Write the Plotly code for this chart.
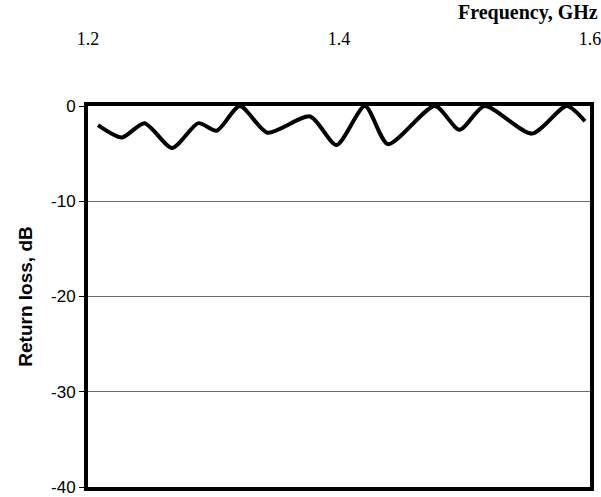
import plotly.graph_objects as go

# Data
freq_ghz = [1.208, 1.227, 1.245, 1.267, 1.288, 1.3025, 1.321, 1.343, 1.377, 1.398,
            1.4207, 1.439, 1.4765, 1.496, 1.516, 1.5536, 1.5815, 1.596]
return_loss_db = [-2.0, -3.3, -1.8, -4.4, -1.8, -2.6, 0.0, -2.8, -1.1, -4.1,
                  0.0, -4.0, 0.0, -2.5, 0.0, -2.9, 0.0, -1.6]

x_ticks = [1.2, 1.4, 1.6]
x_ticklabels = ["1.2", "1.4", "1.6"]
y_ticks = [0, -10, -20, -30, -40]
y_ticklabels = ["0", "-10", "-20", "-30", "-40"]

fig = go.Figure()
fig.add_trace(go.Scatter(
    x=freq_ghz, y=return_loss_db, mode="lines",
    line=dict(color="black", width=4, shape="spline", smoothing=0.7),
    showlegend=False, cliponaxis=True,
))

fig.update_layout(
    template="none",
    width=601, height=497, autosize=False,
    margin=dict(l=88, r=11, t=106, b=10, pad=0),
    paper_bgcolor="white", plot_bgcolor="white",
    xaxis=dict(
        side="top", range=[1.2, 1.6], automargin=False,
        tickmode="array", tickvals=x_ticks, ticktext=x_ticklabels,
        ticks="", showgrid=False, zeroline=False,
        showline=True, linecolor="black", linewidth=4, mirror=True,
        tickfont=dict(family="Liberation Serif", size=18, color="black"),
        ticklabelstandoff=50, ticklabeloverflow="allow",
    ),
    yaxis=dict(
        range=[-40, 0], automargin=False,
        tickmode="array", tickvals=y_ticks, ticktext=y_ticklabels,
        ticks="outside", ticklen=5, tickcolor="black", tickwidth=1,
        showgrid=True, gridcolor="#6a6a6a", gridwidth=1,
        zeroline=False, ticklabeloverflow="allow",
        showline=True, linecolor="black", linewidth=4, mirror=True,
        tickfont=dict(family="Liberation Sans", size=17, color="black"),
        title=dict(text="<b>Return loss, dB</b>",
                   font=dict(family="Liberation Sans", size=19, color="black"),
                   standoff=14),
    ),
    annotations=[dict(
        text="<b>Frequency, GHz</b>", xref="paper", yref="paper",
        x=1.02, y=1.0, xanchor="right", yanchor="middle",
        yshift=94, showarrow=False,
        font=dict(family="Liberation Serif", size=20, color="black"),
    )],
)

fig.write_html(
    "out.html",
    config={"displayModeBar": False},
    post_script="document.body.style.margin='0';document.body.style.overflow='hidden';",
)
